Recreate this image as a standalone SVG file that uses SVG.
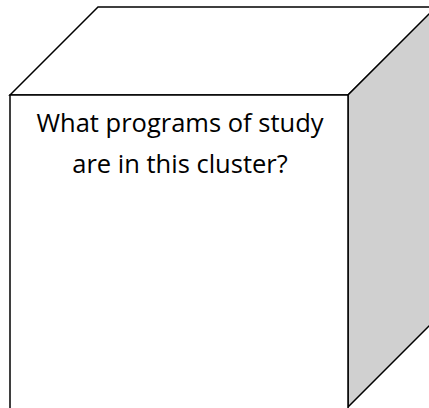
<svg xmlns="http://www.w3.org/2000/svg" width="429" height="408" viewBox="0 0 429 408">
<style>
.edge{stroke:#000;stroke-width:1.5;stroke-linejoin:miter}
.label{font-family:"Open Sans","Liberation Sans",sans-serif;font-size:25.5px;fill:#000;text-anchor:middle}
</style>
<rect width="429" height="408" fill="#fff"/>
<g id="cube">
<polygon id="top" class="edge" fill="#fff" points="10,95 98,7 437,7 348,95"/>
<polygon id="side" class="edge" fill="#d0d0d0" points="348,95 437,6 437,318 348,407"/>
<rect id="front" class="edge" fill="#fff" x="10" y="95" width="338" height="315"/>
<text class="label" x="180" y="132">What programs of study</text>
<text class="label" x="180" y="173">are in this cluster?</text>
</g>
</svg>
